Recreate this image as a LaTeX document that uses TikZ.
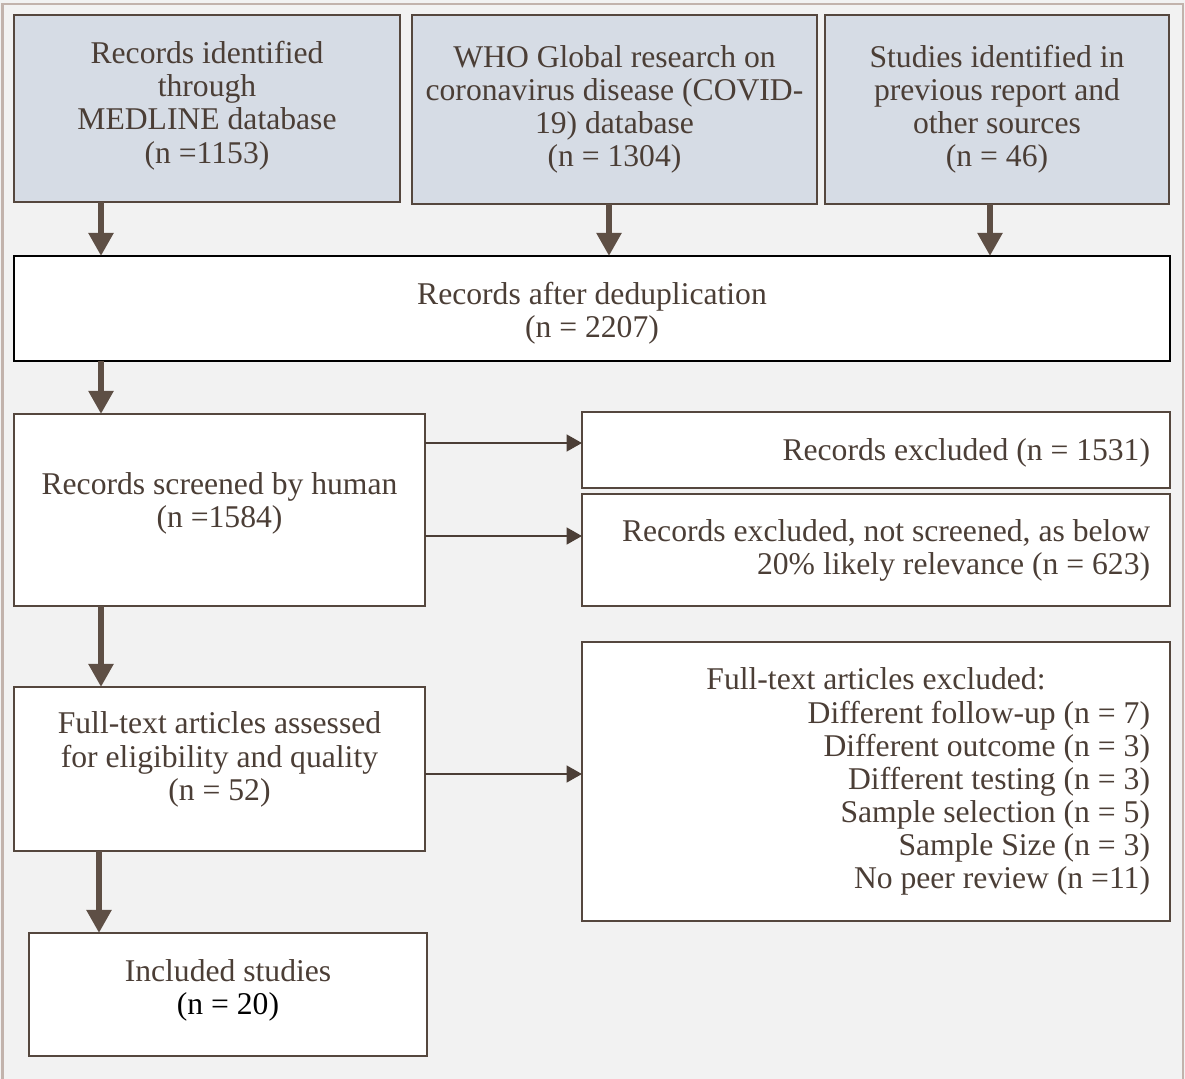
\documentclass[tikz,border=0pt]{standalone}
\usepackage{fontspec}
\setmainfont{Liberation Serif}
\usetikzlibrary{arrows.meta}
\definecolor{paper}{HTML}{F2F2F2}
\definecolor{frameline}{HTML}{C2B3AC}
\definecolor{inkbrown}{HTML}{4B3E36}
\definecolor{boxline}{HTML}{55473E}
\definecolor{arrowbrown}{HTML}{5E4F45}
\definecolor{sourcefill}{HTML}{D6DCE5}

\begin{document}
\begin{tikzpicture} [x=0.025cm, y=-0.025cm,
    every node/.style={font=\fontsize{22.5}{23.5}\selectfont, text=inkbrown, inner sep=0pt, outer sep=0pt},
    every label/.style={align=center},
    box/.style={draw=boxline, line width=0.05cm, fill=white, align=center},
    source/.style={box, fill=sourcefill},
    sidebox/.style={box, align=flush right, inner xsep=0.5cm, text width=13.7cm, minimum width=14.7cm},
    bigarrow/.style={draw=arrowbrown, line width=0.16cm, -{Triangle[length=0.58cm,width=0.6cm]}, arrowbrown},
    thinarrow/.style={draw=inkbrown, line width=0.04cm, -{Triangle[length=0.38cm,width=0.42cm]}, inkbrown}]
                  % PAGE:
                  \useasboundingbox (0,0) rectangle (1185,1079);
                  \fill[paper] (0,0) rectangle (1185,1079);
                  \draw[frameline, line width=0.05cm] (2.5,1079) -- (2.5,3.5) -- (1183,3.5) -- (1183,1079);

                  % SOURCES
                  \node[source, minimum width=9.65cm, minimum height=4.675cm,
                        label={[yshift=0.07cm]center:Records identified\\through\\MEDLINE database\\(n =1153)}]
                        (medline) at (207,108.5) {};
                  \node[source, minimum width=10.125cm, minimum height=4.725cm] (who) at (614.5,109.5)
                        {WHO Global research on\\coronavirus disease (COVID-\\19) database\\(n = 1304)};
                  \node[source, minimum width=8.6cm, minimum height=4.725cm] (previous) at (997,109.5)
                        {Studies identified in\\previous report and\\other sources\\(n = 46)};

                  % MAIN COLUMN
                  \node[box, draw=black, minimum width=28.9cm, minimum height=2.625cm,
                        label={[yshift=-0.12cm]center:Records after deduplication\\(n = 2207)}]
                        (dedup) at (592,308.5) {};
                  \node[box, minimum width=10.275cm, minimum height=4.8cm,
                        label={[yshift=0.16cm]center:Records screened by human\\(n =1584)}]
                        (screened) at (219.5,510) {};
                  \node[box, minimum width=10.275cm, minimum height=4.1cm,
                        label={[yshift=0.24cm]center:Full-text articles assessed\\for eligibility and quality\\(n = 52)}]
                        (fulltext) at (219.5,769) {};
                  \node[box, minimum width=9.95cm, minimum height=3.075cm,
                        label={[yshift=0.1cm]center:Included studies\\\textcolor{black}{(n = 20)}}]
                        (included) at (228,994.5) {};

                  % EXCLUSIONS
                  \node[sidebox, minimum height=1.9cm] (excluded) at (876,450)
                        {\raisebox{-0.075cm}[\height][\depth]{Records excluded (n = 1531)}};
                  \node[sidebox, minimum height=2.8cm] (notscreened) at (876,550)
                        {Records excluded, not screened, as below\\20\% likely relevance (n = 623)};
                  \node[sidebox, minimum height=6.975cm] (reasons) at (876,781.5)
                        {\makebox[\linewidth][c]{Full-text articles excluded:}\\
                         Different follow-up (n = 7)\\Different outcome (n = 3)\\Different testing (n = 3)\\
                         Sample selection (n = 5)\\Sample Size (n = 3)\\No peer review (n =11)};

                  % ARROWS
                  \coordinate (leftcol) at (101,0);
                  \draw[bigarrow] (medline.south -| leftcol) -- (dedup.north -| leftcol);
                  \draw[bigarrow] (who.south -| 609,0) -- (dedup.north -| 609,0);
                  \draw[bigarrow] (previous.south -| 990,0) -- (dedup.north -| 990,0);
                  \draw[bigarrow] (dedup.south -| leftcol) -- (screened.north -| leftcol);
                  \draw[bigarrow] (screened.south -| leftcol) -- (fulltext.north -| leftcol);
                  \draw[bigarrow] (fulltext.south -| 99,0) -- (included.north -| 99,0);

                  \draw[thinarrow] (screened.east |- 0,443) -- (excluded.west |- 0,443);
                  \draw[thinarrow] (screened.east |- 0,536) -- (notscreened.west |- 0,536);
                  \draw[thinarrow] (fulltext.east |- 0,774) -- (reasons.west |- 0,774);
\end{tikzpicture}
\end{document}
